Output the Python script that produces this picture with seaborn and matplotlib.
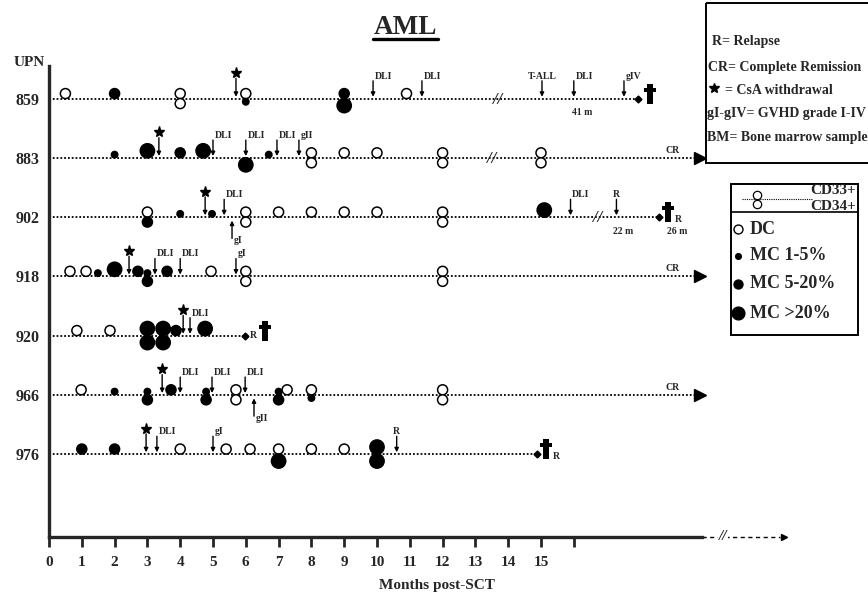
import matplotlib
matplotlib.use("Agg")
import matplotlib.pyplot as plt
import pandas as pd
import seaborn as sns
from matplotlib.patches import Rectangle
from matplotlib.path import Path

# patients (UPN), top to bottom
upns = [859, 883, 902, 918, 920, 966, 976]

# bone marrow samples: patient, month post-SCT, fraction (CD33+ above line, CD34+ below), chimerism
obs_upn = ([859] * 9 + [883] * 14 + [902] * 13 + [918] * 13 + [920] * 8 + [966] * 16 + [976] * 11)
obs_month = [
    0.5, 2.0, 4.0, 4.0, 6.0, 6.0, 9.0, 9.0, 10.9,
    2.0, 3.0, 4.0, 4.7, 6.0, 6.7, 8.0, 8.0, 9.0, 10.0, 12.0, 12.0, 15.0, 15.0,
    3.0, 3.0, 4.0, 4.97, 6.0, 6.0, 7.0, 8.0, 9.0, 10.0, 12.0, 12.0, 15.1,
    0.64, 1.13, 1.49, 2.0, 2.71, 3.0, 3.0, 3.6, 4.94, 6.0, 6.0, 12.0, 12.0,
    0.85, 1.86, 3.0, 3.0, 3.48, 3.48, 3.87, 4.76,
    0.98, 2.0, 3.0, 3.0, 3.72, 4.79, 4.79, 5.7, 5.7, 7.0, 7.0, 7.26, 8.0, 8.0, 12.0, 12.0,
    1.0, 2.0, 4.0, 5.4, 6.13, 7.0, 7.0, 8.0, 9.0, 10.0, 10.0,
]
obs_frac = [
    "CD33", "CD33", "CD33", "CD34", "CD33", "CD34", "CD33", "CD34", "CD33",
    "CD33", "CD33", "CD33", "CD33", "CD34", "CD33", "CD33", "CD34", "CD33", "CD33", "CD33", "CD34", "CD33", "CD34",
    "CD33", "CD34", "CD33", "CD33", "CD33", "CD34", "CD33", "CD33", "CD33", "CD33", "CD33", "CD34", "CD33",
    "CD33", "CD33", "CD33", "CD33", "CD33", "CD33", "CD34", "CD33", "CD33", "CD33", "CD34", "CD33", "CD34",
    "CD33", "CD33", "CD33", "CD34", "CD33", "CD34", "CD33", "CD33",
    "CD33", "CD33", "CD33", "CD34", "CD33", "CD33", "CD34", "CD33", "CD34", "CD33", "CD34", "CD33", "CD33", "CD34", "CD33", "CD34",
    "CD33", "CD33", "CD33", "CD33", "CD33", "CD33", "CD34", "CD33", "CD33", "CD33", "CD34",
]
DC, M1, M5, M20 = "DC", "MC 1-5%", "MC 5-20%", "MC >20%"
obs_status = [
    DC, M5, DC, DC, DC, M1, M5, M20, DC,
    M1, M20, M5, M20, M20, M1, DC, DC, DC, DC, DC, DC, DC, DC,
    DC, M5, M1, M1, DC, DC, DC, DC, DC, DC, DC, DC, M20,
    DC, DC, M1, M20, M5, M1, M5, M5, DC, DC, DC, DC, DC,
    DC, DC, M20, M20, M20, M20, M5, M20,
    DC, M1, M1, M5, M5, M1, M5, DC, DC, M1, M5, DC, DC, M1, DC, DC,
    M5, M5, DC, DC, DC, DC, M20, DC, DC, M20, M20,
]

# clinical events (arrows); "*" = CsA withdrawal
ev_upn = [859] * 6 + [883] * 5 + [902] * 5 + [918] * 4 + [920] * 2 + [966] * 5 + [976] * 4
ev_month = [5.70, 9.88, 11.37, 15.03, 16.0, 17.53,
            3.35, 5.0, 6.0, 6.95, 7.62,
            4.76, 5.34, 5.58, 15.9, 17.3,
            2.44, 3.23, 4.0, 5.7,
            4.09, 4.3,
            3.45, 4.0, 4.97, 5.98, 6.25,
            2.96, 3.29, 5.0, 10.6]
ev_label = ["*", "DLI", "DLI", "T-ALL", "DLI", "gIV",
            "*", "DLI", "DLI", "DLI", "gII",
            "*", "DLI", "gI", "DLI", "R",
            "*", "DLI", "DLI", "gI",
            "*", "DLI",
            "*", "DLI", "DLI", "DLI", "gII",
            "*", "DLI", "gI", "R"]

# follow-up: end of line and outcome
end_month = [17.96, 19.85, 18.6, 19.85, 5.98, 19.85, 14.88]
outcome = ["death", "CR", "death relapse", "CR", "relapse death", "CR", "death relapse"]
break_upn = [859, 883, 902]
break_month = [13.69, 13.5, 16.74]
note_upn = [859, 902, 902]
note_month = [16.25, 17.5, 19.15]
note_text = ["41 m", "22 m", "26 m"]

sns.set_style("white")
plt.rcParams["font.family"] = ["Liberation Serif", "DejaVu Serif", "DejaVu Sans"]
plt.rcParams["font.weight"] = "bold"

fig = plt.figure(figsize=(8.68, 6.01), dpi=100)
ax = fig.add_axes([49 / 868, 64 / 601, 738 / 868, 471 / 601])
ax.set_xlim(0, 22.5)
ax.set_ylim(-1.4, 6.55)
PX = 471 / 7.95  # pixels per y unit

row_y = {u: len(upns) - 1 - i for i, u in enumerate(upns)}
radius = {DC: 5.0, M1: 3.2, M5: 5.0, M20: 7.0}
sizes = {DC: 52, M1: 21, M5: 52, M20: 105}
palette = {DC: "white", M1: "black", M5: "black", M20: "black"}

# latin cross marker for death
cross = Path([(-0.26, -1), (0.26, -1), (0.26, 0.18), (0.66, 0.18), (0.66, 0.6), (0.26, 0.6),
              (0.26, 1), (-0.26, 1), (-0.26, 0.6), (-0.66, 0.6), (-0.66, 0.18), (-0.26, 0.18),
              (-0.26, -1)], closed=True)


def death(x, y):
    ax.plot(x, y + 0.08, marker=cross, ms=14, color="black", mew=0, clip_on=False)


df = pd.DataFrame({"upn": obs_upn, "month": obs_month, "frac": obs_frac, "status": obs_status})
sign = df["frac"].map({"CD33": 1, "CD34": -1})
df["ypos"] = df["upn"].map(row_y) + sign * df["status"].map(radius) / PX

# dotted follow-up lines
for u, end, out in zip(upns, end_month, outcome):
    y = row_y[u]
    ax.plot([0, end], [y, y], color="black", lw=1.3, ls=(0, (1, 1.1)), zorder=1, clip_on=False)
    if out == "CR":
        ax.plot(end, y, marker=">", ms=8, color="black", clip_on=False)
        ax.text(end - 0.85, y + 0.05, "CR", fontsize=7, ha="center", va="bottom")
    else:
        ax.plot(end, y, marker="D", ms=3.5, color="black", clip_on=False)
        if out == "death":
            death(end + 0.35, y)
        elif out == "relapse death":
            ax.text(end + 0.25, y, "R", fontsize=7, ha="center", va="center")
            death(end + 0.6, y)
        else:
            death(end + 0.28, y)
            ax.text(end + 0.6, y - 0.04, "R", fontsize=7, ha="center", va="center")

sns.scatterplot(data=df, x="month", y="ypos", hue="status", size="status", sizes=sizes,
                palette=palette, edgecolor="black", linewidth=1.1, legend=False,
                ax=ax, zorder=3, clip_on=False)

# event arrows
from_below = {(902, "gI"), (966, "gII")}
for u, m, lab in zip(ev_upn, ev_month, ev_label):
    y = row_y[u]
    if (u, lab) in from_below:
        ax.annotate("", xy=(m, y - 0.06), xytext=(m, y - 0.36),
                    arrowprops=dict(arrowstyle="-|>", color="black", lw=1, mutation_scale=6,
                                    shrinkA=0, shrinkB=0))
        ax.text(m + 0.06, y - 0.40, lab, fontsize=7, ha="left", va="center")
        continue
    top = 0.34 if lab == "*" else 0.30
    ax.annotate("", xy=(m, y + 0.03), xytext=(m, y + top),
                arrowprops=dict(arrowstyle="-|>", color="black", lw=1, mutation_scale=6,
                                shrinkA=0, shrinkB=0))
    if lab == "*":
        ax.plot(m, y + 0.43, marker="*", ms=8, color="black", clip_on=False)
    elif lab in ("T-ALL", "R"):
        ax.text(m, y + 0.38, lab, fontsize=7, ha="center", va="center")
    else:
        ax.text(m + 0.05, y + 0.38, lab, fontsize=7, ha="left", va="center")

for u, m in zip(break_upn, break_month):
    ax.text(m, row_y[u] - 0.02, "//", fontsize=12, ha="center", va="center", style="italic")
for u, m, t in zip(note_upn, note_month, note_text):
    ax.text(m, row_y[u] - 0.24, t, fontsize=7, ha="center", va="center")

# axes
sns.despine(ax=ax)
ax.spines["left"].set_linewidth(2.4)
ax.spines["bottom"].set_linewidth(2.4)
ax.spines["bottom"].set_bounds(0, 19.9)
ax.set_xticks(range(17))
ax.set_xticklabels([str(i) for i in range(16)] + [""])
ax.tick_params(axis="x", bottom=True, direction="out", length=7, width=2, pad=7, labelsize=11)
ax.set_yticks([row_y[u] for u in upns])
ax.set_yticklabels([str(u) for u in upns])
ax.tick_params(axis="y", left=False, length=0, pad=7, labelsize=11.5)
ax.set_xlabel("Months post-SCT", fontsize=11, fontweight="bold")
ax.xaxis.set_label_coords((437 - 49) / 738, -0.09)
ax.set_ylabel("")
ax.plot([19.9, 22.3], [-1.4, -1.4], color="black", lw=1, ls=(0, (3, 2.5)), clip_on=False)
ax.plot(22.4, -1.4, marker=">", ms=4, color="black", clip_on=False)
ax.text(20.55, -1.4, "//", fontsize=11, ha="center", va="center", style="italic",
        bbox=dict(fc="white", ec="none", pad=0.5))

# page layer: title and key boxes
lay = fig.add_axes([0, 0, 1, 1])
lay.set_xlim(0, 868)
lay.set_ylim(601, 0)
lay.axis("off")
lay.text(405, 27, "AML", fontsize=19.5, ha="center", va="center")
lay.plot([373, 438], [38.5, 38.5], color="black", lw=2.4)
lay.text(29, 62, "UPN", fontsize=11, ha="center", va="center")

lay.add_patch(Rectangle((706, 3), 200, 160, fill=False, lw=1.4, ec="black"))
lay.text(712, 42, "R= Relapse", fontsize=10, va="center")
lay.text(708, 68, "CR= Complete Remission", fontsize=10, va="center")
lay.plot(714, 88, marker="*", ms=7, color="black")
lay.text(725, 90, "= CsA withdrawal", fontsize=10, va="center")
lay.text(707, 113, "gI-gIV= GVHD grade I-IV", fontsize=10, va="center")
lay.text(707, 138, "BM= Bone marrow sample", fontsize=10, va="center")

lay.add_patch(Rectangle((731, 184), 127, 151, fill=False, lw=1.4, ec="black"))
lay.plot([731, 858], [212, 212], color="black", lw=1.2)
lay.plot([742, 812], [199, 199], color="black", lw=0.8, ls=(0, (1, 1)))
lay.scatter([757, 757], [195, 203.5], s=36, facecolor="white", edgecolor="black", lw=0.9, zorder=3)
lay.text(856, 191, "CD33+", fontsize=11, ha="right", va="center")
lay.text(856, 206, "CD34+", fontsize=11, ha="right", va="center")
for yy, st in zip([229, 256, 284, 313], [DC, M1, M5, M20]):
    lay.scatter(738, yy, s=sizes[st] * 0.8, facecolor=palette[st], edgecolor="black", lw=1, zorder=3)
    lay.text(750, yy, st, fontsize=13, va="center")

fig.savefig("out.png", dpi=100)
